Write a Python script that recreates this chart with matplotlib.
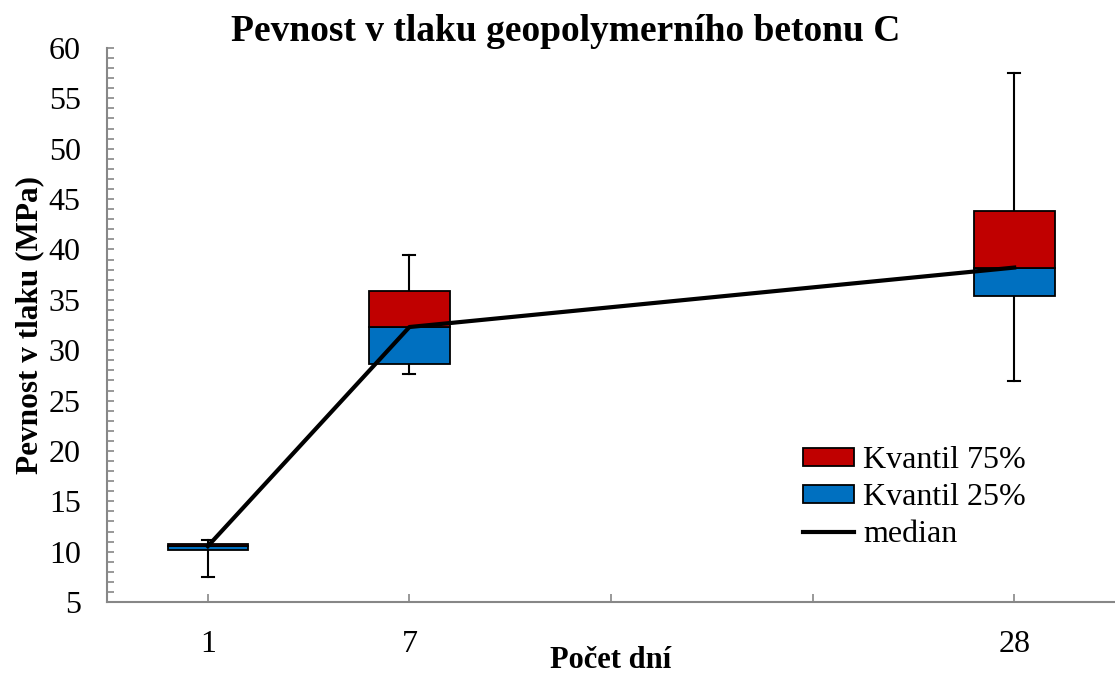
import matplotlib
matplotlib.use("Agg")
import matplotlib.pyplot as plt
import numpy as np
from matplotlib.patches import Patch
from matplotlib.lines import Line2D
from matplotlib.ticker import MultipleLocator

plt.rcParams['font.family'] = ['Liberation Serif', 'DejaVu Serif']

# data (MPa)
days = ["1", "7", "28"]
day_pos = [0, 1, 4]            # category slots on the axis (empty slots between 7 and 28)
tick_labels = ["1", "7", "", "", "28"]
q1 = [10.15, 28.6, 35.4]
median = [10.55, 32.3, 38.2]
q3 = [10.75, 35.9, 43.8]
w_min = [7.5, 27.6, 26.9]
w_max = [11.15, 39.4, 57.5]

red = '#C00000'
blue = '#0070C0'
gray = '#878787'

fig = plt.figure(figsize=(11.15, 6.75), dpi=100)
ax = fig.add_axes([0.096, 0.108, 0.904, 0.821])

box_w = 0.4
for x, a, m, b, lo, hi in zip(day_pos, q1, median, q3, w_min, w_max):
    # whiskers
    ax.plot([x, x], [lo, a], color='black', lw=1.5, zorder=1)
    ax.plot([x, x], [b, hi], color='black', lw=1.5, zorder=1)
    ax.plot([x - 0.03, x + 0.03], [lo, lo], color='black', lw=1.5, zorder=1)
    ax.plot([x - 0.03, x + 0.03], [hi, hi], color='black', lw=1.5, zorder=1)
    # stacked box: lower quartile part blue, upper part red
    ax.bar(x, m - a, bottom=a, width=box_w, color=blue, edgecolor='black', lw=1.3, zorder=2)
    ax.bar(x, b - m, bottom=m, width=box_w, color=red, edgecolor='black', lw=1.3, zorder=2)

ax.plot(day_pos, median, color='black', lw=3, zorder=3)

ax.set_xlim(-0.5, 4.5)
ax.set_ylim(5, 60)
ax.set_xticks(range(5))
ax.set_xticklabels(tick_labels, fontsize=23)
ax.yaxis.set_major_locator(MultipleLocator(5))
ax.yaxis.set_minor_locator(MultipleLocator(1))
ax.tick_params(axis='y', which='both', direction='in', length=5, width=1.2, color=gray, labelsize=23, pad=19)
ax.tick_params(axis='x', direction='in', length=6, width=1.2, color=gray, pad=20)

for s in ['top', 'right']:
    ax.spines[s].set_visible(False)
for s in ['left', 'bottom']:
    ax.spines[s].set_color(gray)
    ax.spines[s].set_linewidth(1.5)

fig.suptitle("Pevnost v tlaku geopolymerního betonu C", x=0.507, y=0.954, va='center',
             fontsize=27, fontweight='bold')
ax.set_xlabel("Počet dní", fontsize=22, fontweight='bold')
ax.xaxis.set_label_coords(0.5, -0.08)
ax.set_ylabel("Pevnost v tlaku (MPa)", fontsize=22.5, fontweight='bold')
ax.yaxis.set_label_coords(-0.0625, 0.5)

handles = [Patch(facecolor=red, edgecolor='black', lw=1.3),
           Patch(facecolor=blue, edgecolor='black', lw=1.3),
           Line2D([], [], color='black', lw=3)]
ax.legend(handles, ["Kvantil 75%", "Kvantil 25%", "median"], loc='lower left',
          bbox_to_anchor=(0.69, 0.095), frameon=False, fontsize=23,
          handlelength=1.6, handleheight=0.5, handletextpad=0.3, labelspacing=0.25,
          borderpad=0, borderaxespad=0)

fig.savefig("out.png", dpi=100)
